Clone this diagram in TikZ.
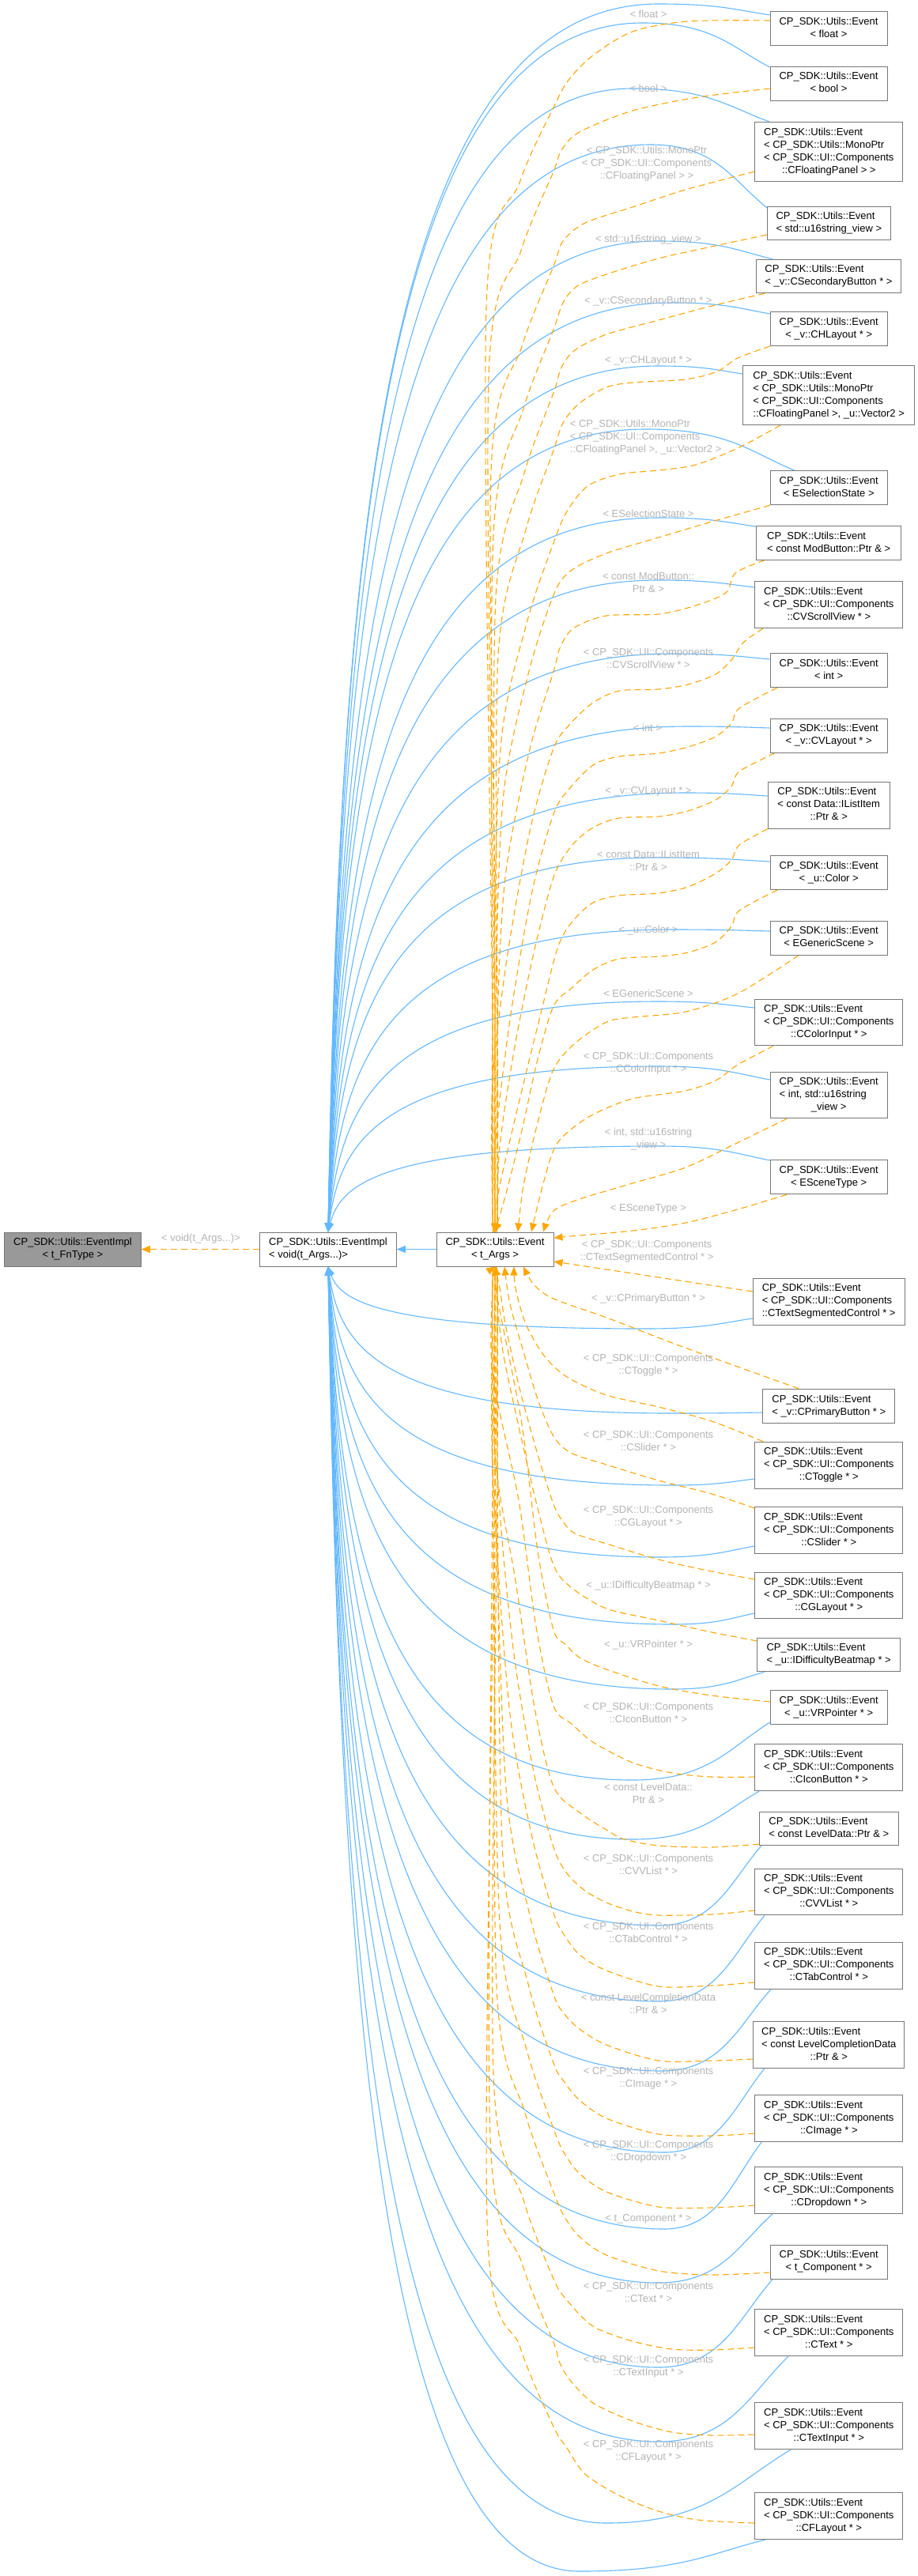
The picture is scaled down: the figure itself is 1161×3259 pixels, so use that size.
\documentclass[tikz,border=0pt]{standalone}
\usepackage{fontspec}
\setmainfont{Liberation Sans}
\usetikzlibrary{arrows.meta}
\definecolor{blueE}{HTML}{63B8FF}
\definecolor{orangeE}{HTML}{FFA500}
\definecolor{labG}{HTML}{B4B4B4}
\definecolor{nodeB}{HTML}{777777}
\definecolor{rootF}{HTML}{999999}
\pgfdeclarelayer{bg}
\pgfdeclarelayer{edges}
\pgfsetlayers{bg,edges,main}
\newcommand\nCC[2]{\begin{tabular}{@{}c@{}}#1\\#2\end{tabular}}
\newcommand\nLL[2]{\begin{tabular}{@{}l@{}}#1\\#2\end{tabular}}
\newcommand\nLLC[3]{\begin{tabular}{@{}l@{}}#1\\#2\\\multicolumn{1}{@{}c@{}}{#3}\end{tabular}}
\newcommand\nLLL[3]{\begin{tabular}{@{}l@{}}#1\\#2\\#3\end{tabular}}
\newcommand\nLLLC[4]{\begin{tabular}{@{}l@{}}#1\\#2\\#3\\\multicolumn{1}{@{}c@{}}{#4}\end{tabular}}
\newcommand\nLLLL[4]{\begin{tabular}{@{}l@{}}#1\\#2\\#3\\#4\end{tabular}}
\newcommand\EV{CP\_SDK::Utils::Event}
\newcommand\UIC{< CP\_SDK::UI::Components}
\tikzset{
 box/.style={draw=nodeB,line width=1pt,fill=white,inner sep=0pt,font=\fontsize{13}{16}\selectfont,anchor=north west},
 lab/.style={text=labG,font=\fontsize{13}{16}\selectfont,inner sep=0pt,align=center},
 be/.style={draw=blueE,line width=1.1pt,-{Triangle[length=11pt,width=9pt]}},
 oe/.style={draw=orangeE,line width=1.1pt,dash pattern=on 8pt off 5pt,-{Triangle[length=11pt,width=9pt]}},
}
% blue edge, upper half: start, ex, ey, px, py
\newcommand\bup[5]{\draw[be] #1 .. controls ({#2-0.3*(#2-#4)},{#3+0.45*(#5-#3)}) and ({#4+0.55*(#2-#4)},#5) .. (#4,#5) .. controls (480,#5) and (430,{1559-0.55*(1559-#5)}) .. (implv.north);}
\newcommand\blo[5]{\draw[be] #1 .. controls ({#2-0.3*(#2-#4)},{#3+0.45*(#5-#3)}) and ({#4+0.55*(#2-#4)},#5) .. (#4,#5) .. controls (480,#5) and (430,{1602+0.55*(#5-1602)}) .. (implv.south);}
% orange edge, upper / lower: points, xb, y700, xk
\newcommand\oup[4]{\draw[oe] plot[smooth,tension=0.5] coordinates {#1 ({0.5*(700+#2)},{#3+100}) (#2,{#3+260}) (#4,{max(#3+420,1300)}) (#4,1538) (targs.north)};}
\newcommand\olo[4]{\draw[oe] plot[smooth,tension=0.5] coordinates {#1 ({0.5*(700+#2)},{#3-100}) (#2,{#3-260}) (#4,{min(#3-420,1860)}) (#4,1623) (targs.south)};}
\begin{document}
\begin{tikzpicture}[x=1pt,y=-1pt]
\useasboundingbox (0,0) rectangle (1161,3259);
\begin{pgfonlayer}{bg}\fill[white] (0,0) rectangle (1161,3259);\end{pgfonlayer}
% left nodes
\node[box,anchor=center,minimum width=172.5pt,minimum height=43pt,fill=rootF] (implf) at (92,1580.5) {\nCC{CP\_SDK::Utils::EventImpl}{< t\_FnType >}};
\node[box,anchor=center,minimum width=172.5pt,minimum height=43pt] (implv) at (415,1580.5) {\nLL{CP\_SDK::Utils::EventImpl}{< void(t\_Args...)>}};
\node[box,anchor=center,minimum width=148pt,minimum height=43pt] (targs) at (626,1580.5) {\nCC{\EV}{< t\_Args >}};
% right nodes
\node[box,minimum width=148pt,minimum height=43pt] (float) at (973.5,14.3) {\nCC{\EV}{< float >}};
\node[box,minimum width=148pt,minimum height=43pt] (bool) at (973.5,83.7) {\nCC{\EV}{< bool >}};
\node[box,minimum width=187pt,minimum height=75.3pt] (mono1) at (954.3,154) {\nLLLC{\EV}{< CP\_SDK::Utils::MonoPtr}{\UIC}{::CFloatingPanel > >}};
\node[box,minimum width=155.7pt,minimum height=42.3pt] (u16) at (970,261) {\nLL{\EV}{< std::u16string\_view >}};
\node[box,minimum width=183.6pt,minimum height=42.6pt] (csec) at (955.7,327.7) {\nLL{\EV}{< \_v::CSecondaryButton * >}};
\node[box,minimum width=148pt,minimum height=42.7pt] (chl) at (973.7,394.3) {\nCC{\EV}{< \_v::CHLayout * >}};
\node[box,minimum width=216.7pt,minimum height=74.7pt] (mono2) at (939.3,462.3) {\nLLLL{\EV}{< CP\_SDK::Utils::MonoPtr}{\UIC}{::CFloatingPanel >, \_u::Vector2 >}};
\node[box,minimum width=148pt,minimum height=43pt] (esel) at (973.7,595.3) {\nCC{\EV}{< ESelectionState >}};
\node[box,minimum width=183.3pt,minimum height=42.7pt] (modb) at (956,665) {\nLL{\EV}{< const ModButton::Ptr \& >}};
\node[box,minimum width=187pt,minimum height=58.7pt] (cvscroll) at (954.3,735.3) {\nLLC{\EV}{\UIC}{::CVScrollView * >}};
\node[box,minimum width=148pt,minimum height=42.7pt] (int) at (973.7,826.3) {\nCC{\EV}{< int >}};
\node[box,minimum width=148pt,minimum height=43pt] (cvlay) at (973.7,908.7) {\nCC{\EV}{< \_v::CVLayout * >}};
\node[box,minimum width=154pt,minimum height=59pt] (ilist) at (970.7,988.7) {\nLLC{\EV}{< const Data::IListItem}{::Ptr \& >}};
\node[box,minimum width=148pt,minimum height=43pt] (color) at (973.7,1082) {\nCC{\EV}{< \_u::Color >}};
\node[box,minimum width=148pt,minimum height=43pt] (egen) at (973.7,1164.7) {\nCC{\EV}{< EGenericScene >}};
\node[box,minimum width=187pt,minimum height=58.6pt] (ccolor) at (954.3,1263.7) {\nLLC{\EV}{\UIC}{::CColorInput * >}};
\node[box,minimum width=148pt,minimum height=58.6pt] (intu16) at (973.7,1355.7) {\nLLC{\EV}{< int, std::u16string}{\_view >}};
\node[box,minimum width=148pt,minimum height=43pt] (escene) at (973.7,1467.3) {\nCC{\EV}{< ESceneType >}};
\node[box,minimum width=192pt,minimum height=59pt] (ctseg) at (951.7,1616.7) {\nLLL{\EV}{\UIC}{::CTextSegmentedControl * >}};
\node[box,minimum width=167pt,minimum height=43.3pt] (cprim) at (964.3,1756.7) {\nLL{\EV}{< \_v::CPrimaryButton * >}};
\node[box,minimum width=187pt,minimum height=59pt] (ctoggle) at (954.3,1823.7) {\nLLC{\EV}{\UIC}{::CToggle * >}};
\node[box,minimum width=187pt,minimum height=59pt] (cslider) at (954.3,1906) {\nLLC{\EV}{\UIC}{::CSlider * >}};
\node[box,minimum width=187pt,minimum height=58.6pt] (cglayout) at (954.3,1988.7) {\nLLC{\EV}{\UIC}{::CGLayout * >}};
\node[box,minimum width=180.7pt,minimum height=42.6pt] (idiff) at (957.3,2071.7) {\nLL{\EV}{< \_u::IDifficultyBeatmap * >}};
\node[box,minimum width=148pt,minimum height=43pt] (vrp) at (973.7,2138.3) {\nCC{\EV}{< \_u::VRPointer * >}};
\node[box,minimum width=187pt,minimum height=59pt] (cicon) at (954.3,2206.3) {\nLLC{\EV}{\UIC}{::CIconButton * >}};
\node[box,minimum width=175.7pt,minimum height=42.3pt] (leveldata) at (960,2291.7) {\nLL{\EV}{< const LevelData::Ptr \& >}};
\node[box,minimum width=187pt,minimum height=58.6pt] (cvvlist) at (954.3,2363.7) {\nLLC{\EV}{\UIC}{::CVVList * >}};
\node[box,minimum width=187pt,minimum height=59pt] (ctab) at (954.3,2456.7) {\nLLC{\EV}{\UIC}{::CTabControl * >}};
\node[box,minimum width=191pt,minimum height=58.7pt] (levelcomp) at (952.3,2557) {\nLLC{\EV}{< const LevelCompletionData}{::Ptr \& >}};
\node[box,minimum width=187pt,minimum height=59pt] (cimage) at (954.3,2650.3) {\nLLC{\EV}{\UIC}{::CImage * >}};
\node[box,minimum width=187pt,minimum height=59pt] (cdrop) at (954.3,2741) {\nLLC{\EV}{\UIC}{::CDropdown * >}};
\node[box,minimum width=148pt,minimum height=43pt] (tcomp) at (973.7,2839.7) {\nCC{\EV}{< t\_Component * >}};
\node[box,minimum width=187pt,minimum height=59pt] (ctext) at (954.3,2921) {\nLLC{\EV}{\UIC}{::CText * >}};
\node[box,minimum width=187pt,minimum height=59pt] (ctinput) at (954.3,3039.3) {\nLLC{\EV}{\UIC}{::CTextInput * >}};
\node[box,minimum width=187pt,minimum height=59pt] (cflayout) at (954.3,3153) {\nLLC{\EV}{\UIC}{::CFLayout * >}};
% edge labels
\node[lab] (lv) at (254,1567) {< void(t\_Args...)>};
\node[lab] (l1) at (820,18.3) {< float >};
\node[lab] (l2) at (820,111.7) {< bool >};
\node[lab] (l3) at (818,206.7) {< CP\_SDK::Utils::MonoPtr\\\UIC\\::CFloatingPanel > >};
\node[lab] (l4) at (820,303.3) {< std::u16string\_view >};
\node[lab] (l5) at (820,381) {< \_v::CSecondaryButton * >};
\node[lab] (l6) at (820,456.7) {< \_v::CHLayout * >};
\node[lab,align=left,anchor=west] (l7) at (720.7,553.3) {< CP\_SDK::Utils::MonoPtr\\\UIC\\::CFloatingPanel >, \_u::Vector2 >};
\node[lab] (l8) at (820,650) {< ESelectionState >};
\node[lab] (l9) at (820,737.2) {< const ModButton::\\Ptr \& >};
\node[lab] (l10) at (820,833.3) {\UIC\\::CVScrollView * >};
\node[lab] (l11) at (819,921) {< int >};
\node[lab] (l12) at (820,1001.7) {< \_v::CVLayout * >};
\node[lab] (l13) at (820,1089.3) {< const Data::IListItem\\::Ptr \& >};
\node[lab] (l14) at (820,1176.7) {< \_u::Color >};
\node[lab] (l15) at (820,1257.3) {< EGenericScene >};
\node[lab] (l16) at (820,1345.3) {\UIC\\::CColorInput * >};
\node[lab] (l17) at (820,1441.3) {< int, std::u16string\\\_view >};
\node[lab] (l18) at (820,1529.3) {< ESceneType >};
\node[lab] (l19) at (818,1583.5) {\UIC\\::CTextSegmentedControl * >};
\node[lab] (l20) at (820,1642.7) {< \_v::CPrimaryButton * >};
\node[lab] (l21) at (820,1727.3) {\UIC\\::CToggle * >};
\node[lab] (l22) at (820,1823.3) {\UIC\\::CSlider * >};
\node[lab] (l23) at (820,1919.5) {\UIC\\::CGLayout * >};
\node[lab] (l24) at (820,2005.7) {< \_u::IDifficultyBeatmap * >};
\node[lab] (l25) at (820,2081) {< \_u::VRPointer * >};
\node[lab] (l26) at (820,2167.3) {\UIC\\::CIconButton * >};
\node[lab] (l27) at (820,2269.3) {< const LevelData::\\Ptr \& >};
\node[lab] (l28) at (820,2358.5) {\UIC\\::CVVList * >};
\node[lab] (l29) at (820,2445.3) {\UIC\\::CTabControl * >};
\node[lab] (l30) at (820,2534.5) {< const LevelCompletionData\\::Ptr \& >};
\node[lab] (l31) at (820,2629.7) {\UIC\\::CImage * >};
\node[lab] (l32) at (820,2722.3) {\UIC\\::CDropdown * >};
\node[lab] (l33) at (820,2807.7) {< t\_Component * >};
\node[lab] (l34) at (820,2899.5) {\UIC\\::CText * >};
\node[lab] (l35) at (820,2994.5) {\UIC\\::CTextInput * >};
\node[lab] (l36) at (820,3101.3) {\UIC\\::CFLayout * >};
\begin{pgfonlayer}{edges}
\draw[be] (targs.west) -- (implv.east);
\draw[oe] (implv.west) -- (implf.east);
% blue, upper
\bup{(float.west |- 0,19)}{973.5}{19}{833}{5}
\bup{(bool.west |- 0,85)}{973.5}{85}{813}{29}
\bup{(973,0 |- mono1.north)}{973}{154}{800}{112}
\bup{(u16.west |- 0,263)}{970}{263}{823}{183}
\bup{(977,0 |- csec.north)}{977}{327.7}{833}{305}
\bup{(chl.west |- 0,397)}{973.7}{397}{850}{383}
\bup{(mono2.west |- 0,473)}{939.3}{473}{833}{463}
\bup{(1005,0 |- esel.north)}{1005}{595.3}{817}{543}
\bup{(modb.west |- 0,666)}{956}{666}{833}{655}
\bup{(cvscroll.west |- 0,743)}{954.3}{743}{833}{734}
\bup{(int.west |- 0,834)}{973.7}{834}{850}{827}
\bup{(cvlay.west |- 0,921)}{973.7}{921}{870}{919}
\bup{(ilist.west |- 0,1007)}{970.7}{1007}{867}{1003}
\bup{(color.west |- 0,1090)}{973.7}{1090}{833}{1085}
\bup{(egen.west |- 0,1178)}{973.7}{1178}{850}{1176}
\bup{(ccolor.west |- 0,1275)}{954.3}{1275}{833}{1267}
\bup{(intu16.west |- 0,1366)}{973.7}{1366}{833}{1349}
\bup{(escene.west |- 0,1468)}{973.7}{1468}{833}{1450}
% blue, lower
\blo{(ctseg.west |- 0,1668)}{951.7}{1668}{817}{1681}
\blo{(cprim.west |- 0,1787)}{964.3}{1787}{850}{1788}
\blo{(ctoggle.west |- 0,1871)}{954.3}{1871}{850}{1879}
\blo{(cslider.west |- 0,1956)}{954.3}{1956}{833}{1970}
\blo{(cglayout.west |- 0,2041)}{954.3}{2041}{850}{2055}
\blo{(967,0 |- idiff.south)}{967}{2114.3}{850}{2137}
\blo{(vrp.west |- 0,2179)}{973.7}{2179}{800}{2252}
\blo{(960,0 |- cicon.south)}{960}{2265.3}{800}{2327}
\blo{(963,0 |- leveldata.south)}{963}{2334}{833}{2436}
\blo{(967,0 |- cvvlist.south)}{967}{2422.3}{833}{2532}
\blo{(975,0 |- ctab.south)}{975}{2515.7}{837}{2620}
\blo{(967,0 |- levelcomp.south)}{967}{2615.7}{840}{2723}
\blo{(963,0 |- cimage.south)}{963}{2709.3}{840}{2820}
\blo{(977,0 |- cdrop.south)}{977}{2800}{833}{2888}
\blo{(977,0 |- tcomp.south)}{977}{2882.7}{833}{2995}
\blo{(997,0 |- ctext.south)}{997}{2980}{833}{3089}
\blo{(1000,0 |- ctinput.south)}{1000}{3098.3}{767}{3192}
\blo{(968,0 |- cflayout.south)}{968}{3212}{733}{3253}
% orange, upper
\oup{(float.west |- 0,26) (870,27) (800,40) (750,70) (720,100) (703,130)}{615}{130}{623}
\oup{(bool.west |- 0,112) (883,123) (800,140) (733,167) (710,190) (700,217)}{618}{217}{626}
\oup{(mono1.west |- 0,217) (867,240) (800,262) (740,282) (712,305) (700,337)}{621}{337}{629}
\oup{(u16.west |- 0,297) (900,312) (833,327) (767,347) (730,362) (712,383) (700,417)}{624}{417}{623}
\oup{(967,0 |- csec.south) (900,387) (833,405) (767,423) (727,443) (710,465) (700,497)}{627}{497}{626}
\oup{(chl.south west) (933,453) (907,470) (867,480) (800,484) (767,490) (733,510) (712,535) (700,570)}{630}{570}{629}
\oup{(987,0 |- mono2.south) (933,567) (880,588) (833,595) (783,600) (743,615) (717,647) (700,687)}{633}{687}{623}
\oup{(esel.south west) (900,660) (833,680) (767,700) (722,722) (700,753)}{636}{753}{626}
\oup{(967,0 |- modb.south) (930,725) (918,750) (880,766) (833,777) (767,779) (725,795) (708,820) (700,850)}{639}{850}{629}
\oup{(965,0 |- cvscroll.south) (940,813) (925,835) (905,853) (870,866) (833,872) (783,874) (750,889) (722,915) (700,947)}{642}{947}{623}
\oup{(983,0 |- int.south) (935,896) (925,915) (905,932) (870,945) (833,953) (783,957) (750,968) (720,998) (700,1030)}{645}{1030}{626}
\draw[oe] plot[smooth,tension=0.5] coordinates {(980,0 |- cvlay.south) (935,976) (925,995) (905,1012) (870,1026) (833,1033) (783,1035) (750,1047) (723,1070) (700,1110) (674,1210) (650,1330) (632,1450) (629,1538) (targs.north)};
\draw[oe] plot[smooth,tension=0.5] coordinates {(ilist.south west) (935,1069) (925,1088) (905,1105) (870,1122) (833,1130) (783,1133) (750,1142) (723,1167) (705,1200) (682,1290) (655,1400) (632,1500) (626,1538) (targs.north)};
\draw[oe] plot[smooth,tension=0.5] coordinates {(983,0 |- color.south) (935,1152) (925,1172) (905,1192) (870,1205) (833,1210) (783,1213) (750,1227) (723,1250) (700,1273) (680,1340) (660,1430) (640,1510) (targs.north)};
\draw[oe] plot[smooth,tension=0.5] coordinates {(1010,0 |- egen.south) (933,1257) (867,1280) (800,1287) (767,1293) (727,1320) (700,1353) (680,1420) (662,1500) (655,0 |- targs.north)};
\draw[oe] plot[smooth,tension=0.5] coordinates {(978,0 |- ccolor.south) (933,1347) (907,1366) (867,1380) (800,1390) (750,1410) (717,1433) (700,1455) (685,1505) (672,0 |- targs.north)};
\draw[oe] plot[smooth,tension=0.5] coordinates {(995,0 |- intu16.south) (930,1447) (867,1477) (800,1497) (733,1517) (700,1532) (687,0 |- targs.north)};
\draw[oe] plot[smooth,tension=0.5] coordinates {(995,0 |- escene.south) (933,1530) (867,1547) (800,1557) (733,1563) (targs.east |- 0,1566)};
% orange, lower
\draw[oe] (ctseg.west |- 0,1634) -- (targs.east |- 0,1596);
\draw[oe] plot[smooth,tension=0.5] coordinates {(1010,0 |- cprim.north) (930,1728) (850,1699) (770,1668) (700,1643) (675,1625) (662,0 |- targs.south)};
\draw[oe] plot[smooth,tension=0.5] coordinates {(965,0 |- ctoggle.north) (900,1798) (833,1780) (767,1765) (717,1742) (688,1715) (665,1675) (652,1630) (650,0 |- targs.south)};
\draw[oe] plot[smooth,tension=0.5] coordinates {(cslider.west |- 0,1908) (900,1890) (833,1873) (767,1853) (722,1838) (700,1817) (680,1770) (662,1710) (645,1650) (638,0 |- targs.south)};
\draw[oe] plot[smooth,tension=0.5] coordinates {(cglayout.west |- 0,1998) (900,1988) (833,1973) (767,1953) (727,1940) (712,1925) (700,1903) (680,1840) (658,1760) (640,1680) (632,1630) (targs.south)};
\draw[oe] plot[smooth,tension=0.5] coordinates {(idiff.west |- 0,2076) (900,2065) (833,2050) (767,2035) (722,2008) (700,1980) (678,1900) (655,1800) (636,1710) (628,1640) (targs.south)};
\olo{(vrp.west |- 0,2153) (900,2145) (833,2133) (767,2112) (733,2097) (715,2080) (700,2062)}{660}{2062}{629}
\olo{(cicon.west |- 0,2248) (900,2248) (850,2243) (800,2230) (750,2204) (723,2181) (700,2158)}{656}{2158}{623}
\olo{(leveldata.west |- 0,2333) (900,2337) (833,2335) (790,2327) (767,2315) (733,2293) (700,2260)}{652}{2260}{626}
\olo{(cvvlist.west |- 0,2417) (900,2422) (833,2423) (800,2418) (767,2407) (740,2392) (717,2370) (700,2337)}{648}{2337}{629}
\olo{(ctab.west |- 0,2508) (900,2512) (833,2513) (767,2493) (733,2473) (713,2447) (700,2420)}{644}{2420}{623}
\olo{(levelcomp.west |- 0,2605) (900,2607) (833,2607) (767,2587) (733,2567) (713,2547) (700,2523)}{640}{2523}{626}
\olo{(cimage.west |- 0,2699) (900,2702) (833,2700) (767,2680) (733,2657) (713,2633) (700,2610)}{636}{2610}{629}
\olo{(cdrop.west |- 0,2790) (900,2793) (833,2792) (767,2773) (733,2750) (713,2723) (700,2693)}{632}{2693}{623}
\olo{(tcomp.west |- 0,2875) (900,2878) (833,2873) (767,2853) (733,2830) (713,2803) (700,2773)}{628}{2773}{626}
\olo{(ctext.west |- 0,2970) (900,2973) (850,2972) (800,2962) (750,2943) (717,2910) (700,2883)}{624}{2883}{629}
\olo{(ctinput.west |- 0,3080) (900,3081) (850,3077) (800,3063) (750,3040) (720,3010) (707,2987) (700,2963)}{620}{2963}{623}
\olo{(cflayout.west |- 0,3192) (883,3188) (833,3177) (783,3157) (740,3130) (717,3097) (700,3070)}{616}{3070}{626}
\end{pgfonlayer}
\end{tikzpicture}
\end{document}
